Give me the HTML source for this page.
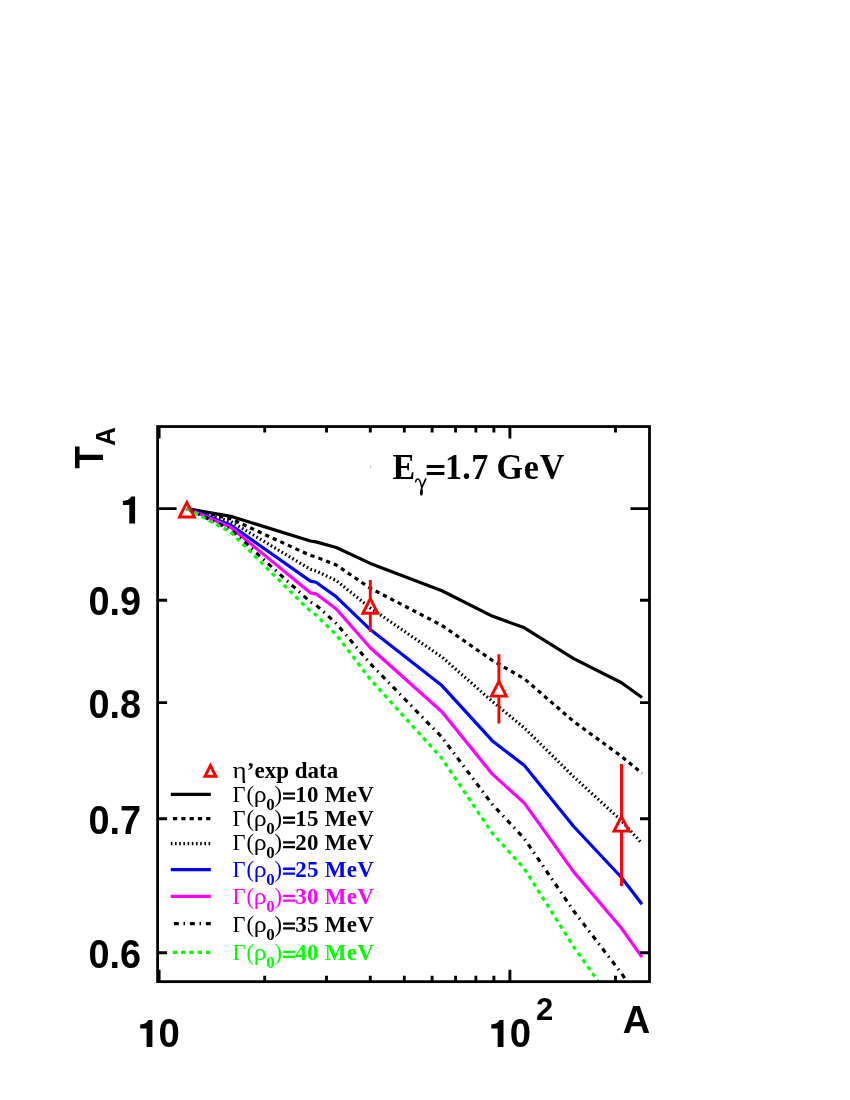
<!DOCTYPE html>
<html><head><meta charset="utf-8"><title>T_A vs A</title>
<style>html,body{margin:0;padding:0;background:#fff}svg{display:block;will-change:transform}text{font-family:"Liberation Sans",sans-serif;font-weight:bold}.s{font-family:"Liberation Serif",serif;font-weight:bold}.r{font-family:"Liberation Serif",serif;font-weight:normal}</style></head><body>
<svg width="850" height="1100" viewBox="0 0 850 1100">
<rect x="0" y="0" width="850" height="1100" fill="#fff"/>
<defs><clipPath id="c"><rect x="157.6" y="426.55" width="491.9" height="555.0999999999999"/></clipPath></defs>
<g clip-path="url(#c)" fill="none" stroke-linejoin="round" stroke-linecap="butt">
<path d="M186.9 508.6 L230.7 516.3 L310.4 541.0 L316.0 541.9 L336.3 547.5 L370.3 563.4 L441.9 590.7 L492.2 616.1 L524.4 627.8 L573.7 658.6 L621.5 682.8 L642.0 697.5" stroke="#000" stroke-width="3.2"/>
<path d="M186.9 508.6 L230.7 518.8 L310.4 555.5 L316.0 556.9 L336.3 565.0 L370.3 588.2 L441.9 625.4 L492.2 660.3 L524.4 678.8 L573.7 721.5 L621.5 756.4 L642.0 773.3" stroke="#000" stroke-width="3.2" stroke-dasharray="4.2 4.1" stroke-dashoffset="0"/>
<path d="M186.9 508.6 L230.7 521.4 L310.4 569.3 L316.0 570.9 L336.3 580.6 L370.3 608.0 L441.9 657.0 L492.2 701.3 L524.4 728.0 L573.7 776.8 L621.5 820.7 L642.0 843.6" stroke="#000" stroke-width="3.2" stroke-dasharray="1.6 2.6" stroke-dashoffset="0"/>
<path d="M186.9 508.6 L230.7 525.0 L310.4 581.1 L316.0 582.2 L336.3 596.8 L370.3 629.6 L441.9 685.6 L492.2 740.7 L524.4 765.5 L573.7 826.5 L621.5 877.5 L642.0 904.2" stroke="#0000ff" stroke-width="3.2"/>
<path d="M186.9 508.6 L230.7 527.3 L310.4 592.8 L316.0 593.8 L336.3 609.0 L370.3 647.7 L441.9 711.8 L492.2 773.9 L524.4 803.1 L573.7 871.9 L621.5 928.3 L642.0 957.1" stroke="#ff00ff" stroke-width="3.2"/>
<path d="M186.9 508.6 L230.7 529.6 L310.4 602.0 L316.0 605.0 L336.3 623.5 L370.3 663.7 L441.9 737.2 L492.2 804.2 L524.4 838.7 L573.7 911.0 L621.5 973.4 L642.0 1004.0" stroke="#000" stroke-width="3.2" stroke-dasharray="4.9 4.7 1.5 4.9" stroke-dashoffset="12.9"/>
<path d="M186.9 508.6 L230.7 532.1 L310.4 611.3 L316.0 615.0 L336.3 634.8 L370.3 679.3 L441.9 758.4 L492.2 833.0 L524.4 868.8 L573.7 946.7 L621.5 1014.0 L642.0 1048.0" stroke="#00ff00" stroke-width="3.2" stroke-dasharray="4.2 4.1" stroke-dashoffset="0"/>
</g>
<rect x="157.6" y="426.55" width="491.9" height="555.0999999999999" fill="none" stroke="#000" stroke-width="2.8"/>
<g stroke="#000" stroke-width="2.9" fill="none">
<path d="M159.1 981.65 V969.75 M159.1 426.55 V438.45"/>
<path d="M264.7 981.65 V975.65 M264.7 426.55 V432.55"/>
<path d="M326.5 981.65 V975.65 M326.5 426.55 V432.55"/>
<path d="M370.3 981.65 V975.65 M370.3 426.55 V432.55"/>
<path d="M404.3 981.65 V975.65 M404.3 426.55 V432.55"/>
<path d="M432.1 981.65 V975.65 M432.1 426.55 V432.55"/>
<path d="M455.6 981.65 V975.65 M455.6 426.55 V432.55"/>
<path d="M475.9 981.65 V975.65 M475.9 426.55 V432.55"/>
<path d="M493.9 981.65 V975.65 M493.9 426.55 V432.55"/>
<path d="M509.9 981.65 V969.75 M509.9 426.55 V438.45"/>
<path d="M615.5 981.65 V975.65 M615.5 426.55 V432.55"/>
<path d="M157.6 508.6 H176.6 M649.5 508.6 H630.5"/>
<path d="M157.6 600.2 H167.1 M649.5 600.2 H640.0"/>
<path d="M157.6 702.6 H167.1 M649.5 702.6 H640.0"/>
<path d="M157.6 818.7 H167.1 M649.5 818.7 H640.0"/>
<path d="M157.6 952.7 H167.1 M649.5 952.7 H640.0"/>
</g>
<path d="M186.91 502.39 L194.39 517.05 L179.42 517.05 Z" fill="none" stroke="#ff0000" stroke-width="2.9" stroke-linejoin="miter"/>
<path d="M370.3 579.9 V599.5 M370.3 613.8 V632.0" stroke="#ff0000" stroke-width="2.9" fill="none"/>
<path d="M370.32 598.64 L377.80 613.30 L362.84 613.30 Z" fill="none" stroke="#ff0000" stroke-width="2.9" stroke-linejoin="miter"/>
<path d="M498.9 654.2 V682.2 M498.9 696.5 V723.6" stroke="#ff0000" stroke-width="2.9" fill="none"/>
<path d="M498.86 681.44 L506.34 696.10 L491.37 696.10 Z" fill="none" stroke="#ff0000" stroke-width="2.9" stroke-linejoin="miter"/>
<path d="M621.5 764.1 V817.2 M621.5 831.5 V885.9" stroke="#ff0000" stroke-width="2.9" fill="none"/>
<path d="M621.48 816.44 L628.96 831.10 L614.00 831.10 Z" fill="none" stroke="#ff0000" stroke-width="2.9" stroke-linejoin="miter"/>
<path d="M129.29 523.60 L129.29 505.11 L122.90 505.11 L122.90 501.11 Q129.16 500.79 131.19 496.60 L135.10 496.60 L135.10 523.60 Z" fill="#000"/>
<text transform="translate(88.5 615.1) scale(0.935 1)" font-size="40.5" fill="#000">0.9</text>
<text transform="translate(88.5 717.5) scale(0.935 1)" font-size="40.5" fill="#000">0.8</text>
<text transform="translate(88.5 833.6) scale(0.935 1)" font-size="40.5" fill="#000">0.7</text>
<text transform="translate(88.5 967.6) scale(0.935 1)" font-size="40.5" fill="#000">0.6</text>
<path d="M146.58 1047.10 L146.58 1028.57 L140.17 1028.57 L140.17 1024.57 Q146.45 1024.24 148.48 1020.05 L152.40 1020.05 L152.40 1047.10 Z" fill="#000"/>
<text transform="translate(158.6 1047.3) scale(0.946 1)" font-size="40.5" fill="#000">0</text>
<path d="M497.68 1047.10 L497.68 1028.57 L491.27 1028.57 L491.27 1024.57 Q497.55 1024.24 499.58 1020.05 L503.50 1020.05 L503.50 1047.10 Z" fill="#000"/>
<text transform="translate(509.8 1047.3) scale(0.946 1)" font-size="40.5" fill="#000">0</text>
<text transform="translate(535.9 1019.8)" font-size="31" fill="#000">2</text>
<text transform="translate(622.8 1033.2)" font-size="38" fill="#000">A</text>
<text transform="translate(102.6 468.7) rotate(-90) scale(0.955 1.035)" font-size="38.9">T<tspan font-size="27.6" dy="12.1">A</tspan></text>
<text transform="translate(392.6 478.8) scale(1.0 1.07)" font-size="34" fill="#000" class="s">E</text>
<g fill="none" stroke="#000" stroke-linecap="round"><path d="M415.6 481.8 Q416.2 478.9 417.8 478.9 Q420.2 479 421.6 487" stroke-width="1.5"/><path d="M425.8 478.9 L421.8 487.5" stroke-width="1.7"/></g>
<path d="M421.7 486 C420 490.5 419.6 493 420.1 494.4 C420.7 496 422.3 496 422.7 494.3 C423.2 492 422.8 489.5 421.7 486Z" fill="#000"/>
<path d="M426.7 465.05h17.65v3h-17.65z M426.7 472.1h17.65v3h-17.65z" fill="#000"/>
<text transform="translate(444.9 478.8) scale(1.0 1.07)" font-size="34" fill="#000" class="s" letter-spacing="0.4">1.7</text>
<text transform="translate(496.5 478.8) scale(1.0 1.07)" font-size="34" fill="#000" class="s" letter-spacing="0.8">GeV</text>
<rect x="370" y="466.2" width="1" height="1.2" fill="#888"/>
<path d="M210.40 765.49 L215.77 776.15 L205.03 776.15 Z" fill="none" stroke="#ff0000" stroke-width="3.0" stroke-linejoin="miter"/>
<text transform="translate(232.6 778.2) scale(1.2 1)" font-size="22.5" fill="#000" class="r">η</text>
<text transform="translate(246.8 778.2) scale(1.0 1.045)" font-size="23" fill="#000" class="s">’exp data</text>
<path d="M170.8 794.3 H210.8" stroke="#000" stroke-width="3.3" fill="none"/>
<text transform="translate(232.4 801.6)" font-size="22.5" fill="#000" class="r">Γ</text>
<text transform="translate(246.4 801.6)" font-size="22.5" fill="#000" class="r">(</text>
<text transform="translate(253.8 801.6) scale(1.15 1)" font-size="22.5" fill="#000" class="r">ρ</text>
<text transform="translate(266.3 809.6)" font-size="16.9" fill="#000" class="s">0</text>
<text transform="translate(274.6 801.6)" font-size="22.5" fill="#000" class="r">)</text>
<path d="M283.05 792.50h12v2.3h-12z M283.05 797.30h12v2.3h-12z" fill="#000"/>
<text transform="translate(295.3 801.6) scale(1.0 1.045)" font-size="23" fill="#000" class="s" letter-spacing="0.25">10 MeV</text>
<path d="M170.8 818.7 H210.8" stroke="#000" stroke-width="3.3" fill="none" stroke-dasharray="4.2 4.1" stroke-dashoffset="-2.2"/>
<text transform="translate(232.4 825.7)" font-size="22.5" fill="#000" class="r">Γ</text>
<text transform="translate(246.4 825.7)" font-size="22.5" fill="#000" class="r">(</text>
<text transform="translate(253.8 825.7) scale(1.15 1)" font-size="22.5" fill="#000" class="r">ρ</text>
<text transform="translate(266.3 833.7)" font-size="16.9" fill="#000" class="s">0</text>
<text transform="translate(274.6 825.7)" font-size="22.5" fill="#000" class="r">)</text>
<path d="M283.05 816.60h12v2.3h-12z M283.05 821.40h12v2.3h-12z" fill="#000"/>
<text transform="translate(295.3 825.7) scale(1.0 1.045)" font-size="23" fill="#000" class="s" letter-spacing="0.25">15 MeV</text>
<path d="M170.8 843.7 H210.8" stroke="#000" stroke-width="3.3" fill="none" stroke-dasharray="1.6 2.6" stroke-dashoffset="0"/>
<text transform="translate(232.4 850.3)" font-size="22.5" fill="#000" class="r">Γ</text>
<text transform="translate(246.4 850.3)" font-size="22.5" fill="#000" class="r">(</text>
<text transform="translate(253.8 850.3) scale(1.15 1)" font-size="22.5" fill="#000" class="r">ρ</text>
<text transform="translate(266.3 858.3)" font-size="16.9" fill="#000" class="s">0</text>
<text transform="translate(274.6 850.3)" font-size="22.5" fill="#000" class="r">)</text>
<path d="M283.05 841.20h12v2.3h-12z M283.05 846.00h12v2.3h-12z" fill="#000"/>
<text transform="translate(295.3 850.3) scale(1.0 1.045)" font-size="23" fill="#000" class="s" letter-spacing="0.25">20 MeV</text>
<path d="M170.8 869.7 H210.8" stroke="#0000ff" stroke-width="3.3" fill="none"/>
<text transform="translate(232.4 876.7)" font-size="22.5" fill="#0000ff" class="r">Γ</text>
<text transform="translate(246.4 876.7)" font-size="22.5" fill="#0000ff" class="r">(</text>
<text transform="translate(253.8 876.7) scale(1.15 1)" font-size="22.5" fill="#0000ff" class="r">ρ</text>
<text transform="translate(266.3 884.7)" font-size="16.9" fill="#0000ff" class="s">0</text>
<text transform="translate(274.6 876.7)" font-size="22.5" fill="#0000ff" class="r">)</text>
<path d="M283.05 867.60h12v2.3h-12z M283.05 872.40h12v2.3h-12z" fill="#0000ff"/>
<text transform="translate(295.3 876.7) scale(1.0 1.045)" font-size="23" fill="#0000ff" class="s" letter-spacing="0.25">25 MeV</text>
<path d="M170.8 896.4 H210.8" stroke="#ff00ff" stroke-width="3.3" fill="none"/>
<text transform="translate(232.4 903.8)" font-size="22.5" fill="#ff00ff" class="r">Γ</text>
<text transform="translate(246.4 903.8)" font-size="22.5" fill="#ff00ff" class="r">(</text>
<text transform="translate(253.8 903.8) scale(1.15 1)" font-size="22.5" fill="#ff00ff" class="r">ρ</text>
<text transform="translate(266.3 911.8)" font-size="16.9" fill="#ff00ff" class="s">0</text>
<text transform="translate(274.6 903.8)" font-size="22.5" fill="#ff00ff" class="r">)</text>
<path d="M283.05 894.70h12v2.3h-12z M283.05 899.50h12v2.3h-12z" fill="#ff00ff"/>
<text transform="translate(295.3 903.8) scale(1.0 1.045)" font-size="23" fill="#ff00ff" class="s" letter-spacing="0.25">30 MeV</text>
<path d="M170.8 923.7 H210.8" stroke="#000" stroke-width="3.3" fill="none" stroke-dasharray="4.9 4.7 1.5 4.9" stroke-dashoffset="12.9"/>
<text transform="translate(232.4 931.6)" font-size="22.5" fill="#000" class="r">Γ</text>
<text transform="translate(246.4 931.6)" font-size="22.5" fill="#000" class="r">(</text>
<text transform="translate(253.8 931.6) scale(1.15 1)" font-size="22.5" fill="#000" class="r">ρ</text>
<text transform="translate(266.3 939.6)" font-size="16.9" fill="#000" class="s">0</text>
<text transform="translate(274.6 931.6)" font-size="22.5" fill="#000" class="r">)</text>
<path d="M283.05 922.50h12v2.3h-12z M283.05 927.30h12v2.3h-12z" fill="#000"/>
<text transform="translate(295.3 931.6) scale(1.0 1.045)" font-size="23" fill="#000" class="s" letter-spacing="0.25">35 MeV</text>
<path d="M170.8 952.3 H210.8" stroke="#00ff00" stroke-width="3.3" fill="none" stroke-dasharray="4.2 4.1" stroke-dashoffset="-2.0"/>
<text transform="translate(232.4 959.9)" font-size="22.5" fill="#00ff00" class="r">Γ</text>
<text transform="translate(246.4 959.9)" font-size="22.5" fill="#00ff00" class="r">(</text>
<text transform="translate(253.8 959.9) scale(1.15 1)" font-size="22.5" fill="#00ff00" class="r">ρ</text>
<text transform="translate(266.3 967.9)" font-size="16.9" fill="#00ff00" class="s">0</text>
<text transform="translate(274.6 959.9)" font-size="22.5" fill="#00ff00" class="r">)</text>
<path d="M283.05 950.80h12v2.3h-12z M283.05 955.60h12v2.3h-12z" fill="#00ff00"/>
<text transform="translate(295.3 959.9) scale(1.0 1.045)" font-size="23" fill="#00ff00" class="s" letter-spacing="0.25">40 MeV</text>
</svg></body></html>
